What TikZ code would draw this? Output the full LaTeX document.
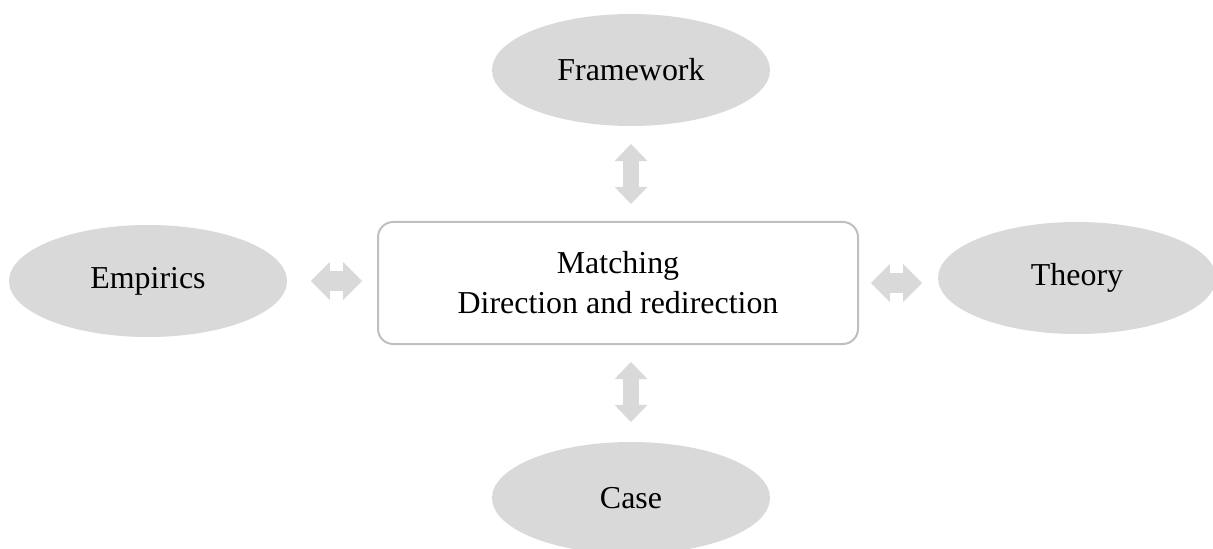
\documentclass[tikz,border=0pt]{standalone}
\usepackage{fontspec}
\setmainfont{Liberation Serif}
\usepackage{tikz}
\usetikzlibrary{positioning,arrows.meta,shapes.geometric}
\definecolor{mdGray}{RGB}{217,217,217}
\definecolor{mdEdge}{RGB}{191,191,191}

\begin{document}
\begin{tikzpicture}[
  font=\fontsize{22.7}{28.5}\selectfont,
  topic/.style={ellipse, fill=mdGray, minimum width=6.95cm, minimum height=2.8cm, inner sep=0pt, outer sep=0pt},
  hub/.style={draw=mdEdge, line width=0.05cm, rounded corners=0.38cm, fill=white, minimum width=12cm, minimum height=3.05cm, align=center, outer sep=0pt},
  vlink/.style={mdGray, line width=0.39cm, {Triangle[width=0.83cm, length=0.43cm, line width=0pt]}-{Triangle[width=0.83cm, length=0.43cm, line width=0pt]}},
  hlink/.style={mdGray, line width=0.5cm, {Triangle[width=0.95cm, length=0.47cm, line width=0pt]}-{Triangle[width=0.95cm, length=0.47cm, line width=0pt]}},
]
\useasboundingbox (0,0) rectangle (30.325,13.7);
% centre box
\node[hub] (match) at (15.45,6.625) {Matching\\Direction and redirection};
% surrounding topics
\node[topic] (frame) at (15.775,11.95) {Framework};
\node[topic] (emp) at (3.7,6.675) {Empirics};
\node[topic] (theo) at (26.925,6.75) {Theory};
\node[topic] (case) at (15.775,1.25) {Case};
% links
\draw[vlink, shorten <=0.45cm, shorten >=0.45cm] (frame.south) -- (frame.south |- match.north);
\draw[vlink, shorten <=0.45cm, shorten >=0.5cm] (case.north |- match.south) -- (case.north);
\draw[hlink, shorten <=0.6cm, shorten >=0.4cm] (emp.east) -- (emp.east -| match.west);
\draw[hlink, shorten <=0.325cm, shorten >=0.4cm] (match.east) -- (match.east -| theo.west);
\end{tikzpicture}
\end{document}
